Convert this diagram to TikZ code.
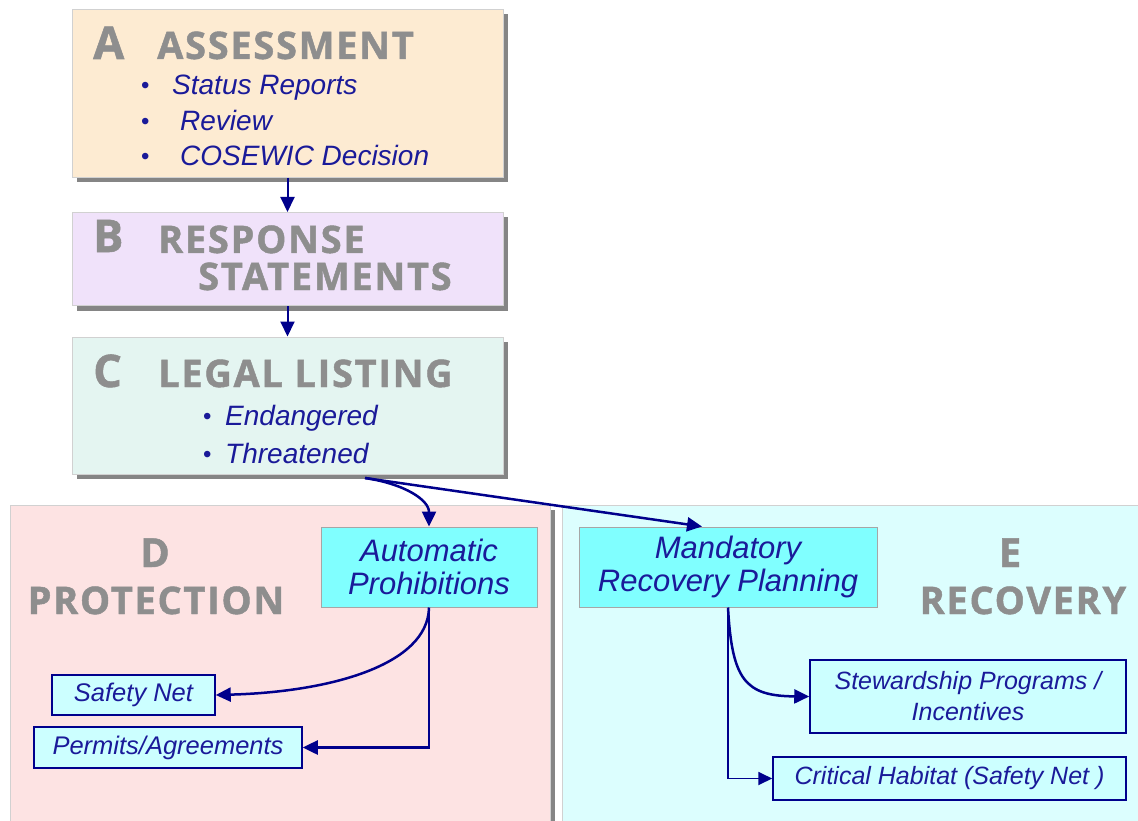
\documentclass[tikz,border=0pt]{standalone}
\usepackage{fontspec}
\setmainfont{Liberation Sans}
\newfontfamily\headfont{Open Sans}[LetterSpace=4.5, FakeBold=1.2]
\usetikzlibrary{arrows.meta,shadows}
\definecolor{navy}{HTML}{00008C}
\definecolor{itext}{HTML}{1A1A99}
\definecolor{headgray}{HTML}{8E8E8E}
\definecolor{peach}{HTML}{FDEBD2}
\definecolor{lilac}{HTML}{F0E2FA}
\definecolor{mint}{HTML}{E4F5F1}
\definecolor{rose}{HTML}{FDE3E3}
\definecolor{ice}{HTML}{DCFEFE}
\definecolor{aqua}{HTML}{80FFFF}
\definecolor{paleaqua}{HTML}{CCFFFF}
\begin{document}
\begin{tikzpicture}[x=1pt,y=-1pt,
  panel/.style={rectangle, draw=black!18, line width=1pt, inner sep=0pt,
    general shadow={fill=black!48, shadow xshift=5pt, shadow yshift=-5pt}},
  head/.style={text=headgray, font=\headfont\bfseries\fontsize{38}{40}\selectfont,
    anchor=base west, inner sep=0pt},
  bigletter/.style={head, font=\headfont\bfseries\fontsize{45}{46}\selectfont},
  item/.style={text=itext, font=\itshape\fontsize{28}{30}\selectfont,
    anchor=base west, inner sep=0pt},
  dot/.style={text=itext, font=\fontsize{24}{26}\selectfont, anchor=base west, inner sep=0pt},
  keybox/.style={rectangle, fill=aqua, draw=black!35, line width=1pt, align=center,
    text=itext, font=\itshape\fontsize{31}{33}\selectfont, inner sep=0pt},
  subbox/.style={rectangle, fill=paleaqua, draw=navy, line width=1.5pt, align=center,
    text=itext, font=\itshape\fontsize{25.5}{30}\selectfont, inner sep=0pt},
  flow/.style={draw=navy, line width=2.5pt, -{Triangle[length=15pt,width=14pt]}},
  thinflow/.style={draw=navy, line width=1.8pt, -{Triangle[length=14pt,width=13pt]}}
]
\useasboundingbox (0,0) rectangle (1138,821);
\clip (0,0) rectangle (1138,821);
\fill[white] (0,0) rectangle (1138,821);

% stage panels
\node[panel, fill=peach, minimum width=431pt, minimum height=168pt] (boxA) at (287.5,93.5) {};
\node[panel, fill=lilac, minimum width=431pt, minimum height=93pt] (boxB) at (287.5,259) {};
\node[panel, fill=mint, minimum width=431pt, minimum height=137pt] (boxC) at (287.5,405.5) {};

% lower regions
\node[panel, fill=rose, minimum width=540pt, minimum height=340pt] (regD) at (280,675) {};
\node[panel, fill=ice, minimum width=590pt, minimum height=340pt] (regE) at (857,675) {};

% A: assessment
\node[bigletter] (tA) at (93,59) {A};
\node[head] (hA) at (157,59) {ASSESSMENT};
\node[dot] (bA1) at (141,94) {\textbullet};
\node[item] (iA1) at (172,95) {Status Reports};
\node[dot] (bA2) at (141,130) {\textbullet};
\node[item] (iA2) at (180,131) {Review};
\node[dot] (bA3) at (141,165) {\textbullet};
\node[item] (iA3) at (180,166) {COSEWIC Decision};

% B: response statements
\node[bigletter] (tB) at (93,252) {B};
\node[head] (hB1) at (158,253) {RESPONSE};
\node[head] (hB2) at (198,290) {STATEMENTS};

% C: legal listing
\node[bigletter] (tC) at (93,387) {C};
\node[head] (hC) at (158,387) {LEGAL LISTING};
\node[dot] (bC1) at (203,424) {\textbullet};
\node[item] (iC1) at (225,425) {Endangered};
\node[dot] (bC2) at (203,462) {\textbullet};
\node[item] (iC2) at (225,463) {Threatened};

% D and E headings
\node[head, anchor=base, font=\headfont\bfseries\fontsize{40}{42}\selectfont] (tD) at (155,567) {D};
\node[head, anchor=base] (hD) at (156,614) {PROTECTION};
\node[head, anchor=base, font=\headfont\bfseries\fontsize{40}{42}\selectfont] (tE) at (1010,567) {E};
\node[head, anchor=base] (hE) at (1023,614) {RECOVERY};

% action boxes
\node[keybox, minimum width=216pt, minimum height=80pt] (auto) at (429,567)
  {Automatic\\Prohibitions};
\node[keybox, minimum width=298pt, minimum height=80pt] (mand) at (728,567)
  {Mandatory\\Recovery Planning};
\node[subbox, minimum width=163pt, minimum height=40pt] (safety) at (133.5,695) {Safety Net};
\node[subbox, minimum width=268pt, minimum height=41pt] (permits) at (168,747.5) {Permits/Agreements};
\node[subbox, minimum width=316pt, minimum height=73pt,
  font=\itshape\fontsize{25}{31}\selectfont] (stew) at (968,696.5)
  {Stewardship Programs /\\Incentives};
\node[subbox, minimum width=353pt, minimum height=43pt,
  font=\itshape\fontsize{25}{30}\selectfont] (crit) at (949.5,778.5)
  {Critical Habitat (Safety Net )};

% connectors
\coordinate (cOut) at (365,478);
\draw[flow, line width=2pt] (boxA.south) -- (boxB.north);
\draw[flow, line width=2pt] (boxB.south) -- (boxC.north);
\draw[flow] (cOut) .. controls (405,484) and (429,500) .. (auto.north);
\draw[flow] (cOut) -- (mand.north -| 702,0);
\draw[flow] (auto.south) .. controls (428,665) and (330,692) .. (safety.east);
\draw[flow] (auto.south) |- (permits.east);
\draw[flow] (mand.south) .. controls (732,680) and (745,696) .. (stew.west);
\draw[thinflow] (mand.south) |- (crit.west);
\end{tikzpicture}
\end{document}
